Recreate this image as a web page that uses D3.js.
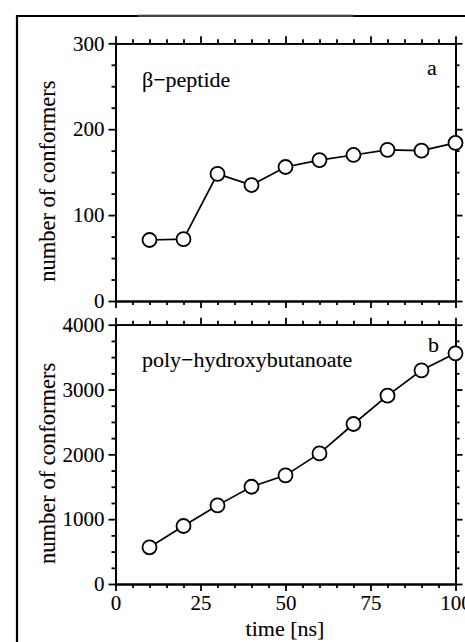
<!DOCTYPE html>
<html>
<head>
<meta charset="utf-8">
<style>
    body { margin: 0; background: #fff; }
    svg { display: block; font-family: "Liberation Serif", "DejaVu Serif", serif; }
    svg text { stroke: #000; stroke-width: 0.1; }
    .axis path, .axis line { stroke: #000; stroke-width: 1.8; }
    .axis text { font-size: 21px; fill: #000; font-family: "Liberation Serif", serif; }
    .series { fill: none; stroke: #000; stroke-width: 1.7; }
    .dot { fill: #fff; stroke: #000; stroke-width: 1.8; }
</style>
</head>
<body>
<svg id="chart"></svg>
<script src="https://cdn.jsdelivr.net/npm/d3@7"></script>
<script>
    // data
    var times = [10, 20, 30, 40, 50, 60, 70, 80, 90, 100];
    var betaPeptide = [71, 72, 148, 135, 156, 164, 170, 176, 175, 184];
    var polyHB = [566, 895, 1213, 1500, 1676, 2015, 2468, 2905, 3296, 3558];
    var xTicks = [0, 25, 50, 75, 100];
    var yTicksA = [0, 100, 200, 300];
    var yTicksB = [0, 1000, 2000, 3000, 4000];

    var width = 465, height = 642;
    var left = 115.5, right = 455.5;

    var svg = d3.select('#chart').attr('width', width).attr('height', height);

    // scanned page frame
    svg.append('path')
        .attr('d', 'M17,' + height + 'V16H' + width)
        .attr('fill', 'none').attr('stroke', '#000').attr('stroke-width', 2.2);
    svg.append('rect').attr('x', 138).attr('y', 14).attr('width', 215).attr('height', 3)
        .attr('fill', '#888').attr('opacity', 0.5);

    var x = d3.scaleLinear().domain([0, 100]).range([left, right]);

    var panels = [
        { top: 43.3, bottom: 301, max: 300, ticks: yTicksA, minor: 25, values: betaPeptide,
          label: 'β\u2212peptide', lx: 142, ly: 87, letter: 'a', ax: 427, ay: 75 },
        { top: 324.7, bottom: 584, max: 4000, ticks: yTicksB, minor: 250, values: polyHB,
          label: 'poly\u2212hydroxybutanoate', lx: 142, ly: 367, letter: 'b', ax: 428, ay: 352 }
    ];

    panels.forEach(function (p, i) {
        var y = d3.scaleLinear().domain([0, p.max]).range([p.bottom, p.top]);
        var g = svg.append('g');
        var xMinor = d3.range(0, 101, 5).filter(function (v) { return v % 25 !== 0; });
        var yMinor = d3.range(0, p.max + 1, p.minor).filter(function (v) { return p.ticks.indexOf(v) < 0; });

        // minor ticks first, then major with the frame
        g.append('g').attr('class', 'axis').attr('transform', 'translate(0,' + p.bottom + ')')
            .call(d3.axisBottom(x).tickValues(xMinor).tickSize(4).tickFormat('').tickSizeOuter(0));
        g.append('g').attr('class', 'axis').attr('transform', 'translate(0,' + p.top + ')')
            .call(d3.axisTop(x).tickValues(xMinor).tickSize(4).tickFormat('').tickSizeOuter(0));
        g.append('g').attr('class', 'axis').attr('transform', 'translate(' + left + ',0)')
            .call(d3.axisLeft(y).tickValues(yMinor).tickSize(4).tickFormat('').tickSizeOuter(0));
        g.append('g').attr('class', 'axis').attr('transform', 'translate(' + right + ',0)')
            .call(d3.axisRight(y).tickValues(yMinor).tickSize(4).tickFormat('').tickSizeOuter(0));

        g.append('g').attr('class', 'axis').attr('transform', 'translate(0,' + p.bottom + ')')
            .call(d3.axisBottom(x).tickValues(xTicks).tickSize(7).tickSizeOuter(0).tickPadding(4)
                .tickFormat(i === 1 ? d3.format('d') : ''));
        g.append('g').attr('class', 'axis').attr('transform', 'translate(0,' + p.top + ')')
            .call(d3.axisTop(x).tickValues(xTicks).tickSize(7).tickSizeOuter(0).tickFormat(''));
        g.append('g').attr('class', 'axis').attr('transform', 'translate(' + left + ',0)')
            .call(d3.axisLeft(y).tickValues(p.ticks).tickSize(7).tickSizeOuter(0).tickPadding(4)
                .tickFormat(d3.format('d')));
        g.append('g').attr('class', 'axis').attr('transform', 'translate(' + right + ',0)')
            .call(d3.axisRight(y).tickValues(p.ticks).tickSize(7).tickSizeOuter(0).tickFormat(''));

        var line = d3.line()
            .x(function (d, j) { return x(times[j]); })
            .y(function (d) { return y(d); });
        g.append('path').datum(p.values).attr('class', 'series').attr('d', line);
        g.selectAll('circle').data(p.values).join('circle')
            .attr('class', 'dot')
            .attr('cx', function (d, j) { return x(times[j]); })
            .attr('cy', function (d) { return y(d); })
            .attr('r', 7);

        g.append('text').attr('x', p.lx).attr('y', p.ly).attr('font-size', 22).text(p.label);
        g.append('text').attr('x', p.ax).attr('y', p.ay).attr('font-size', 22).text(p.letter);

        g.append('text')
            .attr('transform', 'translate(55,' + ((p.top + p.bottom) / 2 + 9) + ') rotate(-90)')
            .attr('text-anchor', 'middle').attr('font-size', 22.5)
            .text('number of conformers');
    });

    svg.append('text').attr('x', 285).attr('y', 636).attr('text-anchor', 'middle')
        .attr('font-size', 22).text('time [ns]');
</script>
</body>
</html>
